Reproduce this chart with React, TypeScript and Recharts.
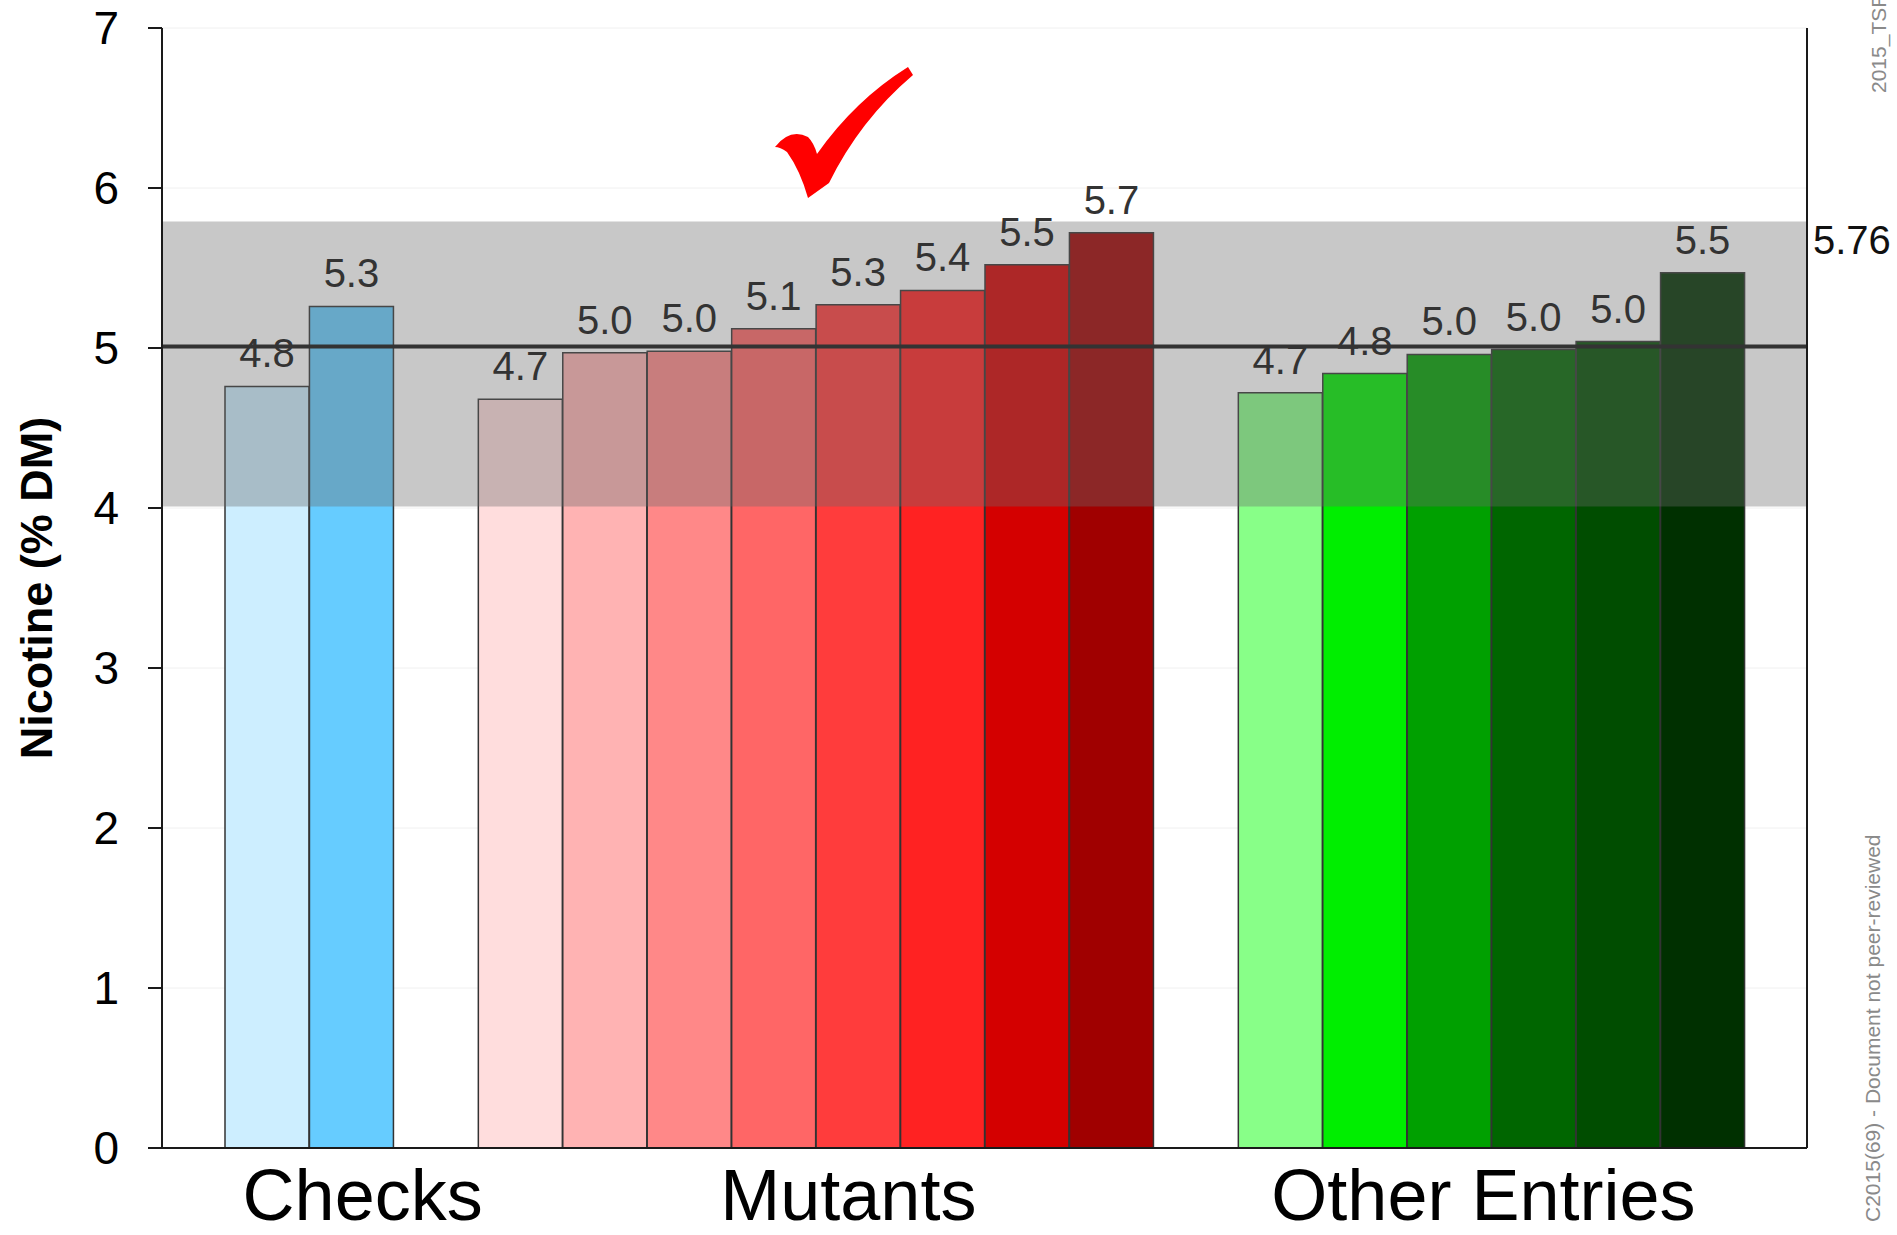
import { BarChart, Bar, XAxis, YAxis, CartesianGrid, ReferenceArea, ReferenceLine, LabelList, Cell } from 'recharts';

const FONT = '"Liberation Sans", Arial, sans-serif';

// groups and their entries
const groups = ['Checks', 'Mutants', 'Other Entries'];
const checkValues = [4.76, 5.26];
const mutantValues = [4.68, 4.97, 4.98, 5.12, 5.27, 5.36, 5.52, 5.72];
const otherValues = [4.72, 4.84, 4.96, 4.99, 5.04, 5.47];

const checkColors = ['#cdeeff', '#66ccff'];
const mutantColors = ['#ffdddd', '#ffb3b3', '#ff8888', '#ff6666', '#ff3c3c', '#ff2222', '#d40000', '#a00000'];
const otherColors = ['#88ff88', '#00ee00', '#00a000', '#006600', '#004d00', '#003000'];

const yTicks = [0, 1, 2, 3, 4, 5, 6, 7];

// gray range band and the mean line
const bandLow = 4.01;
const bandHigh = 5.79;
const meanValue = 5.01;
const bandLabelValue = 5.76;
const bandLabel = '5.76';

type Row = { key: string; value: number | null; fill: string; group?: string };

const groupValues = [checkValues, mutantValues, otherValues];
const groupColors = [checkColors, mutantColors, otherColors];
// which bar of the group the group name sits under
const labelBar = [1, 4, 2];

const rows: Row[] = [];
groups.forEach((g, gi) => {
  if (gi > 0) rows.push({ key: `gap${gi}`, value: null, fill: 'none' });
  groupValues[gi].forEach((v, i) =>
    rows.push({ key: `${g}-${i}`, value: v, fill: groupColors[gi][i], group: i === labelBar[gi] ? g : undefined })
  );
});

const groupShift: Record<string, number> = { Checks: 11, Mutants: -10, 'Other Entries': 34 };

function GroupTick(props: any) {
  const { x, y, payload } = props;
  const row = rows.find((r) => r.key === payload.value);
  if (!row || !row.group) return null;
  return (
    <text x={x + groupShift[row.group]} y={y + 72} textAnchor="middle" fontSize={72} fontFamily={FONT} fill="#000">
      {row.group}
    </text>
  );
}

const axisLine = { stroke: '#1a1a1a', strokeWidth: 2 };

export default function App() {
  return (
    <div style={{ position: 'absolute', left: 0, top: 0, width: 1897, height: 1235, background: '#fff' }}>
      <BarChart
        width={1897}
        height={1235}
        data={rows}
        margin={{ top: 28, right: 0, bottom: 0, left: 0 }}
        barCategoryGap={0}
        barGap={0}
      >
        <CartesianGrid vertical={false} stroke="#f0f0f0" />
        <XAxis
          dataKey="key"
          interval={0}
          height={87}
          padding={{ left: 63, right: 62 }}
          tickLine={false}
          tickSize={0}
          tickMargin={0}
          axisLine={axisLine}
          tick={<GroupTick />}
        />
        {/* frame on top, no padding so the band can span the whole plot */}
        <XAxis
          xAxisId="top"
          orientation="top"
          dataKey="key"
          height={0}
          tick={false}
          tickLine={false}
          axisLine={axisLine}
        />
        <YAxis
          domain={[0, 7]}
          ticks={yTicks}
          interval={0}
          width={162}
          tickSize={14}
          tickMargin={29}
          axisLine={axisLine}
          tickLine={axisLine}
          tick={{ fontSize: 46, fill: '#000', fontFamily: FONT }}
          label={{
            value: 'Nicotine (% DM)',
            angle: -90,
            position: 'center',
            dx: -45,
            fontSize: 45,
            fontWeight: 'bold',
            fill: '#000',
            fontFamily: FONT,
          }}
        />
        <YAxis yAxisId="right" orientation="right" width={90} domain={[0, 7]} tick={false} tickLine={false} axisLine={axisLine} />
        <Bar dataKey="value" isAnimationActive={false} stroke="#333" strokeWidth={1.5}>
          {rows.map((r) => (
            <Cell key={r.key} fill={r.fill} />
          ))}
          <LabelList
            dataKey="value"
            position="top"
            offset={19}
            fill="#333"
            fontSize={40}
            fontFamily={FONT}
            formatter={(v: any) => (v == null ? '' : Number(v).toFixed(1))}
          />
        </Bar>
        <ReferenceArea
          xAxisId="top"
          x1={rows[0].key}
          x2={rows[rows.length - 1].key}
          y1={bandLow}
          y2={bandHigh}
          fill="#6a6a6a"
          fillOpacity={0.37}
          stroke="none"
          zIndex={350}
        />
        <ReferenceLine y={meanValue} stroke="#333" strokeWidth={4} zIndex={400} />
        <ReferenceLine
          y={bandLabelValue}
          stroke="none"
          label={{ value: bandLabel, position: 'right', offset: 6, dy: 13, fontSize: 40, fill: '#111', fontFamily: FONT }}
        />
      </BarChart>
      <svg width={1897} height={1235} style={{ position: 'absolute', left: 0, top: 0, pointerEvents: 'none' }}>
        <path
          d="M775,147 Q790,128 808,137 Q814,143 817,154 Q855,100 908,67 L913,75 Q860,120 829,183 L808,198 Q800,170 787,152 Q780,147 775,147 Z"
          fill="#ff0000"
        />
        <text transform="translate(1886,93) rotate(-90)" fontSize={21} fontFamily={FONT} fill="#8a8a8a">
          2015_TSRC
        </text>
        <text transform="translate(1880,1222) rotate(-90)" fontSize={21} fontFamily={FONT} fill="#8a8a8a">
          C2015(69) - Document not peer-reviewed
        </text>
      </svg>
    </div>
  );
}
